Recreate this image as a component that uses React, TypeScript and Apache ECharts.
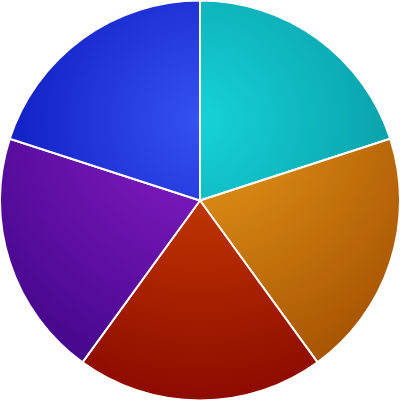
import * as echarts from "echarts"
import { useEffect, useRef } from "react"

const names = ["A", "B", "C", "D", "E"]
const values = [1, 1, 1, 1, 1]
const innerColors = ["#16d2da", "#e89c1a", "#d24800", "#8a1ec8", "#3552f4"]
const outerColors = ["#038a92", "#a24e00", "#8c0800", "#400588", "#0006ab"]

export default function App() {
  const ref = useRef<HTMLDivElement>(null)

  useEffect(() => {
    if (!ref.current) return
    const chart = echarts.init(ref.current, null, { renderer: "svg" })

    chart.setOption({
      animation: false,
      series: [
        {
          type: "pie",
          center: ["50%", "50%"],
          radius: "100%",
          startAngle: 90,
          label: { show: false },
          labelLine: { show: false },
          itemStyle: { borderColor: "#fff", borderWidth: 2 },
          data: names.map((n, i) => ({
            name: n,
            value: values[i],
            itemStyle: {
              // one light spot just above the pie centre, shared by all slices
              color: {
                type: "radial",
                x: 200,
                y: 120,
                r: 290,
                global: true,
                colorStops: [
                  { offset: 0, color: innerColors[i] },
                  { offset: 1, color: outerColors[i] },
                ],
              },
            },
          })),
        },
      ],
    })

    return () => chart.dispose()
  }, [])

  return (
    <div
      ref={ref}
      style={{ position: "fixed", left: 0, top: 0, width: 400, height: 401 }}
    />
  )
}
